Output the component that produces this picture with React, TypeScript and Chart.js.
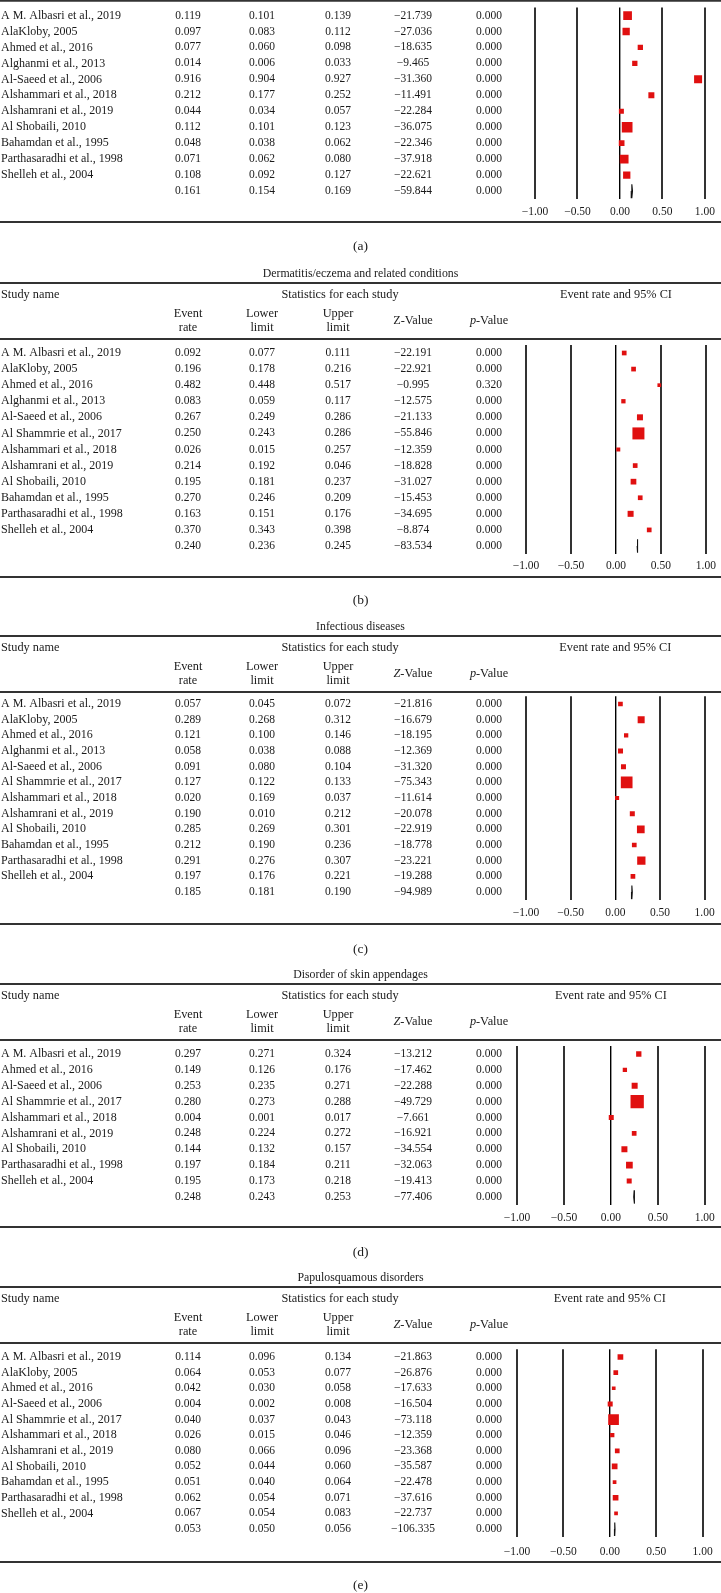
import React, { useEffect, useRef } from "react";
import { Chart, registerables } from "chart.js";

Chart.register(...registerables);

// ---------------- DATA ----------------
const studiesA = [
  "A M. Albasri et al., 2019",
  "AlaKloby, 2005",
  "Ahmed et al., 2016",
  "Alghanmi et al., 2013",
  "Al-Saeed et al., 2006",
  "Alshammari et al., 2018",
  "Alshamrani et al., 2019",
  "Al Shobaili, 2010",
  "Bahamdan et al., 1995",
  "Parthasaradhi et al., 1998",
  "Shelleh et al., 2004",
];
// last entry of each numeric list = pooled estimate
const rateA = [0.119, 0.097, 0.077, 0.014, 0.916, 0.212, 0.044, 0.112, 0.048, 0.071, 0.108, 0.161];
const lowerA = [0.101, 0.083, 0.06, 0.006, 0.904, 0.177, 0.034, 0.101, 0.038, 0.062, 0.092, 0.154];
const upperA = [0.139, 0.112, 0.098, 0.033, 0.927, 0.252, 0.057, 0.123, 0.062, 0.08, 0.127, 0.169];
const zA = [-21.739, -27.036, -18.635, -9.465, -31.36, -11.491, -22.284, -36.075, -22.346, -37.918, -22.621, -59.844];
const pA = [0, 0, 0, 0, 0, 0, 0, 0, 0, 0, 0, 0];
// event rates as actually plotted in panel (a)
const plottedA = [0.09, 0.073, 0.24, 0.175, 0.92, 0.37, 0.017, 0.085, 0.02, 0.05, 0.08, 0.14];
const weightA = [8.7, 7.3, 5.3, 5.3, 8, 6, 5, 10.7, 5.7, 8.7, 7.3];

const studiesB = [
  "A M. Albasri et al., 2019",
  "AlaKloby, 2005",
  "Ahmed et al., 2016",
  "Alghanmi et al., 2013",
  "Al-Saeed et al., 2006",
  "Al Shammrie et al., 2017",
  "Alshammari et al., 2018",
  "Alshamrani et al., 2019",
  "Al Shobaili, 2010",
  "Bahamdan et al., 1995",
  "Parthasaradhi et al., 1998",
  "Shelleh et al., 2004",
];
const rateB = [0.092, 0.196, 0.482, 0.083, 0.267, 0.25, 0.026, 0.214, 0.195, 0.27, 0.163, 0.37, 0.24];
const lowerB = [0.077, 0.178, 0.448, 0.059, 0.249, 0.243, 0.015, 0.192, 0.181, 0.246, 0.151, 0.343, 0.236];
const upperB = [0.111, 0.216, 0.517, 0.117, 0.286, 0.286, 0.257, 0.046, 0.237, 0.209, 0.176, 0.398, 0.245];
const zB = [-22.191, -22.921, -0.995, -12.575, -21.133, -55.846, -12.359, -18.828, -31.027, -15.453, -34.695, -8.874, -83.534];
const pB = [0, 0, 0.32, 0, 0, 0, 0, 0, 0, 0, 0, 0, 0];
const weightB = [4.7, 4.7, 3.7, 4.3, 6, 12, 4, 4.7, 5.7, 4.7, 6, 4.7];

const studiesC = studiesB;
const rateC = [0.057, 0.289, 0.121, 0.058, 0.091, 0.127, 0.02, 0.19, 0.285, 0.212, 0.291, 0.197, 0.185];
const lowerC = [0.045, 0.268, 0.1, 0.038, 0.08, 0.122, 0.169, 0.01, 0.269, 0.19, 0.276, 0.176, 0.181];
const upperC = [0.072, 0.312, 0.146, 0.088, 0.104, 0.133, 0.037, 0.212, 0.301, 0.236, 0.307, 0.221, 0.19];
const zC = [-21.816, -16.679, -18.195, -12.369, -31.32, -75.343, -11.614, -20.078, -22.919, -18.778, -23.221, -19.288, -94.989];
const pC = [0, 0, 0, 0, 0, 0, 0, 0, 0, 0, 0, 0, 0];
const weightC = [4.7, 7, 4.3, 5, 5, 11.7, 4, 5, 7.7, 4.7, 8.3, 4.7];

const studiesD = [
  "A M. Albasri et al., 2019",
  "Ahmed et al., 2016",
  "Al-Saeed et al., 2006",
  "Al Shammrie et al., 2017",
  "Alshammari et al., 2018",
  "Alshamrani et al., 2019",
  "Al Shobaili, 2010",
  "Parthasaradhi et al., 1998",
  "Shelleh et al., 2004",
];
const rateD = [0.297, 0.149, 0.253, 0.28, 0.004, 0.248, 0.144, 0.197, 0.195, 0.248];
const lowerD = [0.271, 0.126, 0.235, 0.273, 0.001, 0.224, 0.132, 0.184, 0.173, 0.243];
const upperD = [0.324, 0.176, 0.271, 0.288, 0.017, 0.272, 0.157, 0.211, 0.218, 0.253];
const zD = [-13.212, -17.462, -22.288, -49.729, -7.661, -16.921, -34.554, -32.063, -19.413, -77.406];
const pD = [0, 0, 0, 0, 0, 0, 0, 0, 0, 0];
const weightD = [5.3, 4.3, 6, 13.3, 5, 4.7, 6, 6.7, 5];

const studiesE = [
  "A M. Albasri et al., 2019",
  "AlaKloby, 2005",
  "Ahmed et al., 2016",
  "Al-Saeed et al., 2006",
  "Al Shammrie et al., 2017",
  "Alshammari et al., 2018",
  "Alshamrani et al., 2019",
  "Al Shobaili, 2010",
  "Bahamdan et al., 1995",
  "Parthasaradhi et al., 1998",
  "Shelleh et al., 2004",
];
const rateE = [0.114, 0.064, 0.042, 0.004, 0.04, 0.026, 0.08, 0.052, 0.051, 0.062, 0.067, 0.053];
const lowerE = [0.096, 0.053, 0.03, 0.002, 0.037, 0.015, 0.066, 0.044, 0.04, 0.054, 0.054, 0.05];
const upperE = [0.134, 0.077, 0.058, 0.008, 0.043, 0.046, 0.096, 0.06, 0.064, 0.071, 0.083, 0.056];
const zE = [-21.863, -26.876, -17.633, -16.504, -73.118, -12.359, -23.368, -35.587, -22.478, -37.616, -22.737, -106.335];
const pE = [0, 0, 0, 0, 0, 0, 0, 0, 0, 0, 0, 0];
const weightE = [5.7, 4.7, 3.7, 5, 10.7, 4.3, 4.7, 5.7, 3.7, 5.7, 3.7];

const panelTitles = [
  "",
  "Dermatitis/eczema and related conditions",
  "Infectious diseases",
  "Disorder of skin appendages",
  "Papulosquamous disorders",
];
const panelLabels = ["(a)", "(b)", "(c)", "(d)", "(e)"];
const axisMin = -1;
const axisMax = 1;
const axisStep = 0.5;

// ---------------- LAYOUT / STYLE ----------------
const W = 721;
const FAMILY = "'Liberation Serif', 'DejaVu Serif', serif";
const TEXT = "#1a1a1a";
const RULE = "#333333";
const RED = "rgb(224, 16, 16)";

type Spec = {
  studies: string[];
  rate: number[];
  lower: number[];
  upper: number[];
  z: number[];
  p: number[];
  weight: number[];
  plotted?: number[];
  title: string;
  label: string;
};

type Layout = {
  top: number;
  height: number;
  xMin: number;
  xMax: number;
  header: number;
  firstRow: number;
  lastRow: number;
  tickY: number;
  bottomRule: number;
  labelY: number;
  showHeader: boolean;
  italicZ: boolean;
};

const specs: Spec[] = [
  { studies: studiesA, rate: rateA, lower: lowerA, upper: upperA, z: zA, p: pA, weight: weightA, plotted: plottedA, title: panelTitles[0], label: panelLabels[0] },
  { studies: studiesB, rate: rateB, lower: lowerB, upper: upperB, z: zB, p: pB, weight: weightB, title: panelTitles[1], label: panelLabels[1] },
  { studies: studiesC, rate: rateC, lower: lowerC, upper: upperC, z: zC, p: pC, weight: weightC, title: panelTitles[2], label: panelLabels[2] },
  { studies: studiesD, rate: rateD, lower: lowerD, upper: upperD, z: zD, p: pD, weight: weightD, title: panelTitles[3], label: panelLabels[3] },
  { studies: studiesE, rate: rateE, lower: lowerE, upper: upperE, z: zE, p: pE, weight: weightE, title: panelTitles[4], label: panelLabels[4] },
];

const layouts: Layout[] = [
  { top: 0, height: 262, xMin: 535, xMax: 707, header: 0.75, firstRow: 14, lastRow: 191, tickY: 212, bottomRule: 222, labelY: 246, showHeader: false, italicZ: false },
  { top: 262, height: 350, xMin: 526, xMax: 707, header: 339, firstRow: 353, lastRow: 546, tickY: 566, bottomRule: 577, labelY: 600, showHeader: true, italicZ: false },
  { top: 612, height: 350, xMin: 526, xMax: 707, header: 692, firstRow: 704, lastRow: 892, tickY: 913, bottomRule: 924, labelY: 949, showHeader: true, italicZ: true },
  { top: 962, height: 303, xMin: 517, xMax: 707, header: 1040, firstRow: 1054, lastRow: 1197, tickY: 1218, bottomRule: 1227, labelY: 1252, showHeader: true, italicZ: true },
  { top: 1265, height: 328, xMin: 517, xMax: 707, header: 1343, firstRow: 1357, lastRow: 1529, tickY: 1552, bottomRule: 1562, labelY: 1585, showHeader: true, italicZ: true },
];

const COL_EVENT = 188;
const COL_LOWER = 262;
const COL_UPPER = 338;
const COL_Z = 413;
const COL_P = 489;
const COL_STATS = 340;

function fmt(v: number, d: number) {
  const s = Math.abs(v).toFixed(d);
  return v < 0 ? "\u2212" + s : s;
}

function drawParts(ctx: CanvasRenderingContext2D, parts: [string, boolean][], cx: number, y: number, size: number) {
  const fonts = parts.map(([, it]) => `${it ? "italic " : ""}${size}px ${FAMILY}`);
  let total = 0;
  const ws = parts.map(([t], i) => {
    ctx.font = fonts[i];
    const w = ctx.measureText(t).width;
    total += w;
    return w;
  });
  let x = cx - total / 2;
  ctx.textAlign = "left";
  parts.forEach(([t], i) => {
    ctx.font = fonts[i];
    ctx.fillText(t, x, y);
    x += ws[i];
  });
}

function ForestPanel({ spec, layout }: { spec: Spec; layout: Layout }) {
  const ref = useRef<HTMLCanvasElement>(null);

  useEffect(() => {
    const canvas = ref.current;
    if (!canvas) return;
    const L = layout;
    const n = spec.rate.length;
    const pooled = n - 1;
    const step = (L.lastRow - L.firstRow) / (n - 1);
    const chartTop = L.firstRow - step / 2 - L.top;
    const chartBottom = L.lastRow + step / 2 - L.top;
    const axisH = 24;
    const padBottom = L.height - chartBottom - axisH;
    const tickPad = L.tickY - L.top - chartBottom - 6.9;

    const markerX = spec.plotted ?? spec.rate;
    const studyPts = spec.studies.map((_, i) => ({ x: markerX[i], y: i }));
    const radii = spec.weight.map((w) => w / Math.SQRT2);
    const cx = markerX[pooled];
    const lo = cx - (spec.rate[pooled] - spec.lower[pooled]);
    const hi = cx + (spec.upper[pooled] - spec.rate[pooled]);
    const dh = 0.42;
    const diamond = [
      { x: lo, y: pooled },
      { x: cx, y: pooled - dh },
      { x: hi, y: pooled },
      { x: cx, y: pooled + dh },
      { x: lo, y: pooled },
    ];

    const tablePlugin = {
      id: "forestTable",
      afterDraw(chart: any) {
        const ctx: CanvasRenderingContext2D = chart.ctx;
        const ys = chart.scales.y;
        const xs = chart.scales.x;
        const off = L.top;
        ctx.save();
        // horizontal rules
        ctx.strokeStyle = RULE;
        ctx.lineWidth = 2;
        const rules = [L.header, L.bottomRule];
        if (L.showHeader) rules.push(L.header - 56);
        rules.forEach((ry) => {
          ctx.beginPath();
          ctx.moveTo(0, ry - off);
          ctx.lineTo(W, ry - off);
          ctx.stroke();
        });

        ctx.fillStyle = TEXT;
        ctx.textBaseline = "middle";

        if (L.showHeader) {
          // title
          ctx.font = `11.8px ${FAMILY}`;
          ctx.textAlign = "center";
          ctx.fillText(spec.title, W / 2, L.header - 65 - off);
          // header rows
          const hs = 12.3;
          ctx.font = `${hs}px ${FAMILY}`;
          ctx.textAlign = "left";
          ctx.fillText("Study name", 1, L.header - 44 - off);
          ctx.textAlign = "center";
          ctx.fillText("Statistics for each study", COL_STATS, L.header - 44 - off);
          ctx.fillText("Event rate and 95% CI", xs.getPixelForValue(0), L.header - 44 - off);
          ctx.fillText("Event", COL_EVENT, L.header - 25 - off);
          ctx.fillText("rate", COL_EVENT, L.header - 11 - off);
          ctx.fillText("Lower", COL_LOWER, L.header - 25 - off);
          ctx.fillText("limit", COL_LOWER, L.header - 11 - off);
          ctx.fillText("Upper", COL_UPPER, L.header - 25 - off);
          ctx.fillText("limit", COL_UPPER, L.header - 11 - off);
          drawParts(ctx, [["Z", L.italicZ], ["-Value", false]], COL_Z, L.header - 18 - off, hs);
          drawParts(ctx, [["p", true], ["-Value", false]], COL_P, L.header - 18 - off, hs);
        }

        // rows
        for (let i = 0; i < n; i++) {
          const y = ys.getPixelForValue(i);
          if (i < spec.studies.length) {
            ctx.font = `12px ${FAMILY}`;
            ctx.textAlign = "left";
            ctx.fillText(spec.studies[i], 1, y);
          }
          ctx.font = `11.5px ${FAMILY}`;
          ctx.textAlign = "center";
          ctx.fillText(fmt(spec.rate[i], 3), COL_EVENT, y);
          ctx.fillText(fmt(spec.lower[i], 3), COL_LOWER, y);
          ctx.fillText(fmt(spec.upper[i], 3), COL_UPPER, y);
          ctx.fillText(fmt(spec.z[i], 3), COL_Z, y);
          ctx.fillText(fmt(spec.p[i], 3), COL_P, y);
        }

        // panel label
        ctx.font = `13.5px ${FAMILY}`;
        ctx.textAlign = "center";
        ctx.fillText(spec.label, W / 2, L.labelY - off);
        ctx.restore();
      },
    };

    const chart = new Chart(canvas, {
      type: "scatter",
      data: {
        datasets: [
          {
            data: studyPts,
            pointStyle: "rect",
            pointRadius: radii,
            pointHoverRadius: radii,
            backgroundColor: RED,
            borderWidth: 0,
          } as any,
          {
            data: diamond,
            showLine: true,
            borderColor: "#111",
            backgroundColor: "#111",
            borderWidth: 1.1,
            pointRadius: 0,
            fill: false,
          } as any,
        ],
      },
      options: {
        animation: false,
        responsive: false,
        devicePixelRatio: 1,
        events: [],
        layout: {
          padding: { left: L.xMin, right: W - L.xMax, top: chartTop, bottom: padBottom },
        },
        plugins: {
          legend: { display: false },
          tooltip: { enabled: false },
        },
        scales: {
          x: {
            type: "linear",
            position: "bottom",
            min: axisMin,
            max: axisMax,
            afterFit: (s: any) => {
              s.height = axisH;
            },
            grid: {
              drawTicks: false,
              color: (c: any) => (c.tick && c.tick.value === 0 ? "#000" : RULE),
              lineWidth: (c: any) => (c.tick && c.tick.value === 0 ? 1.4 : 2),
            },
            border: { display: false },
            ticks: {
              stepSize: axisStep,
              padding: tickPad,
              color: TEXT,
              font: { family: FAMILY, size: 11.5 },
              callback: (v: any) => fmt(Number(v), 2),
            },
          },
          y: {
            type: "linear",
            display: false,
            min: -0.5,
            max: n - 0.5,
            reverse: true,
          },
        },
      } as any,
      plugins: [tablePlugin],
    });

    return () => chart.destroy();
  }, [spec, layout]);

  return (
    <canvas
      ref={ref}
      width={W}
      height={layout.height}
      style={{ position: "absolute", left: 0, top: layout.top, width: W, height: layout.height, display: "block" }}
    />
  );
}

export default function App() {
  return (
    <div style={{ position: "absolute", left: 0, top: 0, width: W, height: 1593, background: "#fff", overflow: "hidden" }}>
      {specs.map((s, i) => (
        <ForestPanel key={i} spec={s} layout={layouts[i]} />
      ))}
    </div>
  );
}
